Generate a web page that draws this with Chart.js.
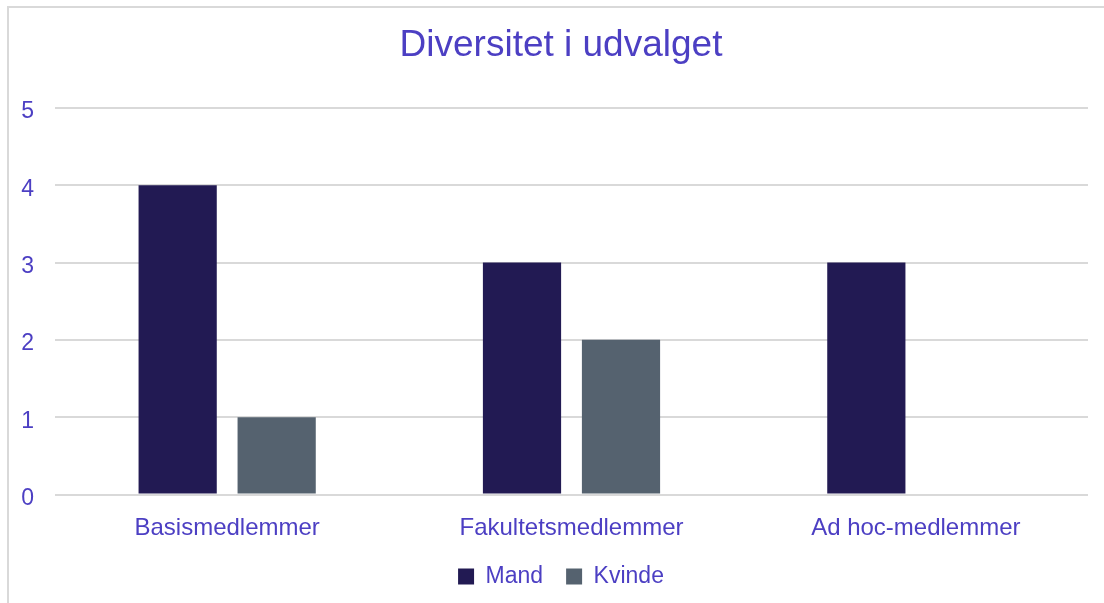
<!DOCTYPE html>
<html>
<head>
<meta charset="utf-8">
<script src="https://cdn.jsdelivr.net/npm/chart.js@4/dist/chart.umd.min.js"></script>
<style>
  html, body { margin: 0; padding: 0; background: #fff; overflow: hidden; }
  #frame { position: absolute; left: 7px; top: 6px; width: 1200px; height: 700px; border: 2px solid #d9d9d9; }
  #chart { position: absolute; left: 0; top: 0; }
</style>
</head>
<body>
<div id="frame"></div>
<canvas id="chart" width="1104" height="603"></canvas>
<script>
const categories = ['Basismedlemmer', 'Fakultetsmedlemmer', 'Ad hoc-medlemmer']
const mand = [4, 3, 3]
const kvinde = [1, 2, 0]
const yTicks = [0, 1, 2, 3, 4, 5]

const textColor = '#4c3fc3'
const gridColor = '#d9d9d9'

Chart.defaults.font.family = '"Liberation Sans", Arial, sans-serif'

new Chart(document.getElementById('chart'), {
  type: 'bar',
  data: {
    labels: categories,
    datasets: [
      { label: 'Mand', data: mand, backgroundColor: '#221a53' },
      { label: 'Kvinde', data: kvinde, backgroundColor: '#55626f' }
    ]
  },
  options: {
    responsive: false,
    animation: false,
    devicePixelRatio: 1,
    categoryPercentage: 0.575,
    barPercentage: 0.79,
    layout: { padding: { left: 21, right: 3, top: 24, bottom: 5 } },
    plugins: {
      title: {
        display: true,
        text: 'Diversitet i udvalget',
        color: textColor,
        font: { size: 37, weight: 'normal' },
        padding: { top: 0, bottom: 39.5 }
      },
      legend: {
        position: 'bottom',
        labels: {
          color: textColor,
          font: { size: 23 },
          boxWidth: 16,
          boxHeight: 16,
          padding: 23
        }
      },
      tooltip: { enabled: false }
    },
    scales: {
      x: {
        grid: { display: false, drawTicks: false },
        border: { display: false },
        ticks: { color: textColor, font: { size: 24 }, padding: 19 },
        afterFit: scale => { scale.height = 47.5 }
      },
      y: {
        min: yTicks[0],
        max: yTicks[yTicks.length - 1],
        afterBuildTicks: axis => { axis.ticks = yTicks.map(v => ({ value: v })) },
        grid: { color: gridColor, lineWidth: 2, drawTicks: false },
        border: { display: false },
        ticks: { color: textColor, font: { size: 23 }, padding: 21, labelOffset: 4 },
        afterFit: scale => { scale.width = 34 }
      },
      // empty spacer on the right so the title and legend sit where the original has them
      y2: {
        type: 'linear',
        position: 'right',
        grid: { display: false, drawTicks: false },
        border: { display: false },
        ticks: { display: false },
        afterFit: scale => { scale.width = 13 }
      }
    }
  }
})
</script>
</body>
</html>
